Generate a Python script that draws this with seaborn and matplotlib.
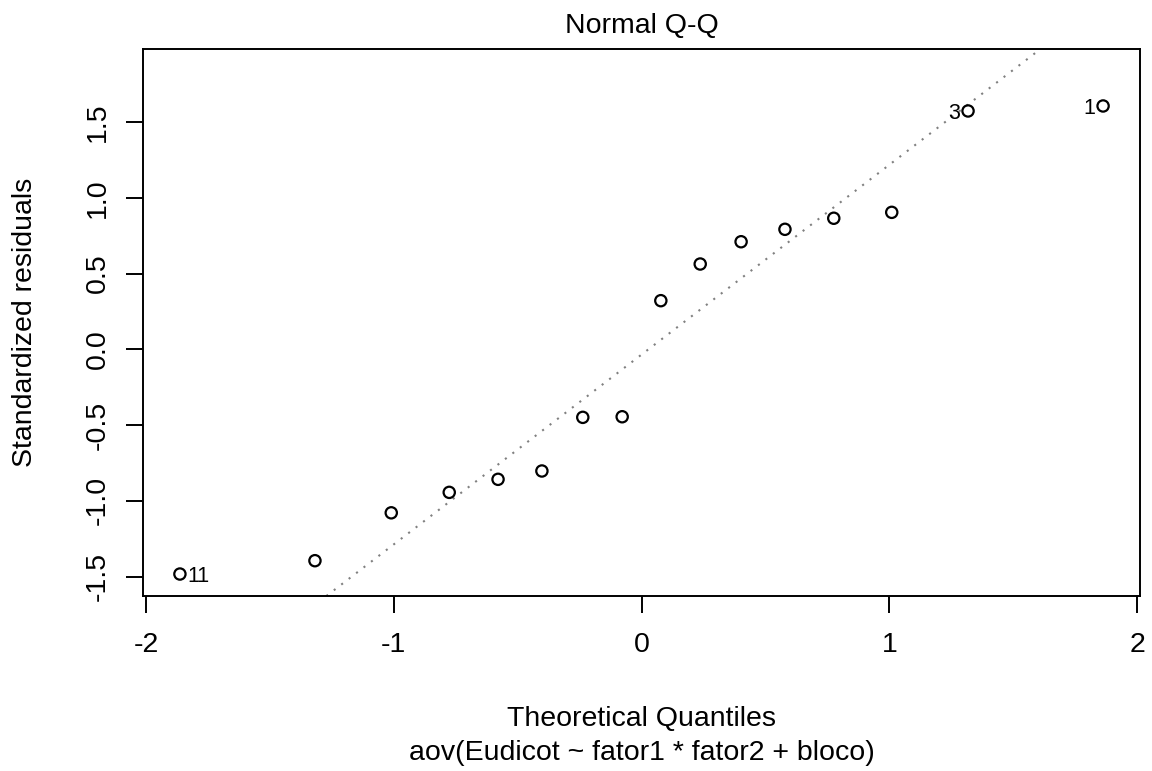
import matplotlib
matplotlib.use("Agg")
import matplotlib.pyplot as plt
import seaborn as sns
import pandas as pd

# ---- data ----
theoretical_quantiles = [-1.863, -1.318, -1.010, -0.776, -0.579, -0.402, -0.237, -0.078,
                         0.078, 0.237, 0.402, 0.579, 0.776, 1.010, 1.318, 1.863]
standardized_residuals = [-1.483, -1.395, -1.079, -0.944, -0.858, -0.803, -0.449, -0.445,
                          0.321, 0.563, 0.710, 0.792, 0.865, 0.904, 1.573, 1.606]
label_index = [0, 14, 15]
label_text = ["11", "3", "1"]
label_side = ["right", "left", "left"]
qqline_intercept = -0.035
qqline_slope = 1.2525
x_ticks = [-2, -1, 0, 1, 2]
x_tick_labels = ["-2", "-1", "0", "1", "2"]
y_ticks = [-1.5, -1.0, -0.5, 0.0, 0.5, 1.0, 1.5]
y_tick_labels = ["-1.5", "-1.0", "-0.5", "0.0", "0.5", "1.0", "1.5"]
title_text = "Normal Q-Q"
xlabel_text = "Theoretical Quantiles"
sub_text = "aov(Eudicot ~ fator1 * fator2 + bloco)"
ylabel_text = "Standardized residuals"

sns.set_theme(style="white")
plt.rcParams["font.family"] = ["Liberation Sans", "DejaVu Sans"]
plt.rcParams["text.color"] = "black"

W, H = 1152, 771
fig = plt.figure(figsize=(W / 100, H / 100), dpi=100)
left, right, top, bottom = 143, 1140, 49, 596
ax = fig.add_axes([left / W, 1 - bottom / H, (right - left) / W, (bottom - top) / H])

df = pd.DataFrame({"theoretical": theoretical_quantiles, "residual": standardized_residuals})
sns.scatterplot(data=df, x="theoretical", y="residual", ax=ax, marker="o", s=66,
                facecolor="none", edgecolor="black", linewidth=1.6, zorder=3)

ax.axline((0, qqline_intercept), slope=qqline_slope, color="#808080",
          linestyle=(0, (1, 3.5)), linewidth=1.5, zorder=2)

for i, t, side in zip(label_index, label_text, label_side):
    dx = 5.5 if side == "right" else -5.5
    ax.annotate(t, (theoretical_quantiles[i], standardized_residuals[i]),
                xytext=(dx, 0), textcoords="offset points",
                ha="left" if side == "right" else "right", va="center_baseline",
                fontsize=15.5, color="black")

ax.set_xlim(-2.012, 2.012)
ax.set_ylim(-1.628, 1.982)
ax.set_xticks(x_ticks)
ax.set_xticklabels(x_tick_labels)
ax.set_yticks(y_ticks)
ax.set_yticklabels(y_tick_labels, rotation=90, va="center")
ax.tick_params(axis="both", direction="out", length=12, width=1.4, labelsize=20.5,
               color="black", labelcolor="black", bottom=True, left=True)
ax.tick_params(axis="x", pad=14)
ax.tick_params(axis="y", pad=11)
ax.set_xlabel("")
ax.set_ylabel("")
ax.grid(False)
for sp in ax.spines.values():
    sp.set_visible(True)
    sp.set_color("black")
    sp.set_linewidth(1.4)

fig.text(641.5 / W, 1 - 26 / H, title_text, ha="center", va="center", fontsize=20.5, color="black")
fig.text(641.5 / W, 1 - 719 / H, xlabel_text, ha="center", va="center", fontsize=20.5, color="black")
fig.text(641.5 / W, 1 - 753 / H, sub_text, ha="center", va="center", fontsize=20.5, color="black")
fig.text(25 / W, 1 - 322.5 / H, ylabel_text, ha="center", va="center", rotation=90,
         fontsize=20.5, color="black")

fig.savefig("out.png", dpi=100, facecolor="white")
